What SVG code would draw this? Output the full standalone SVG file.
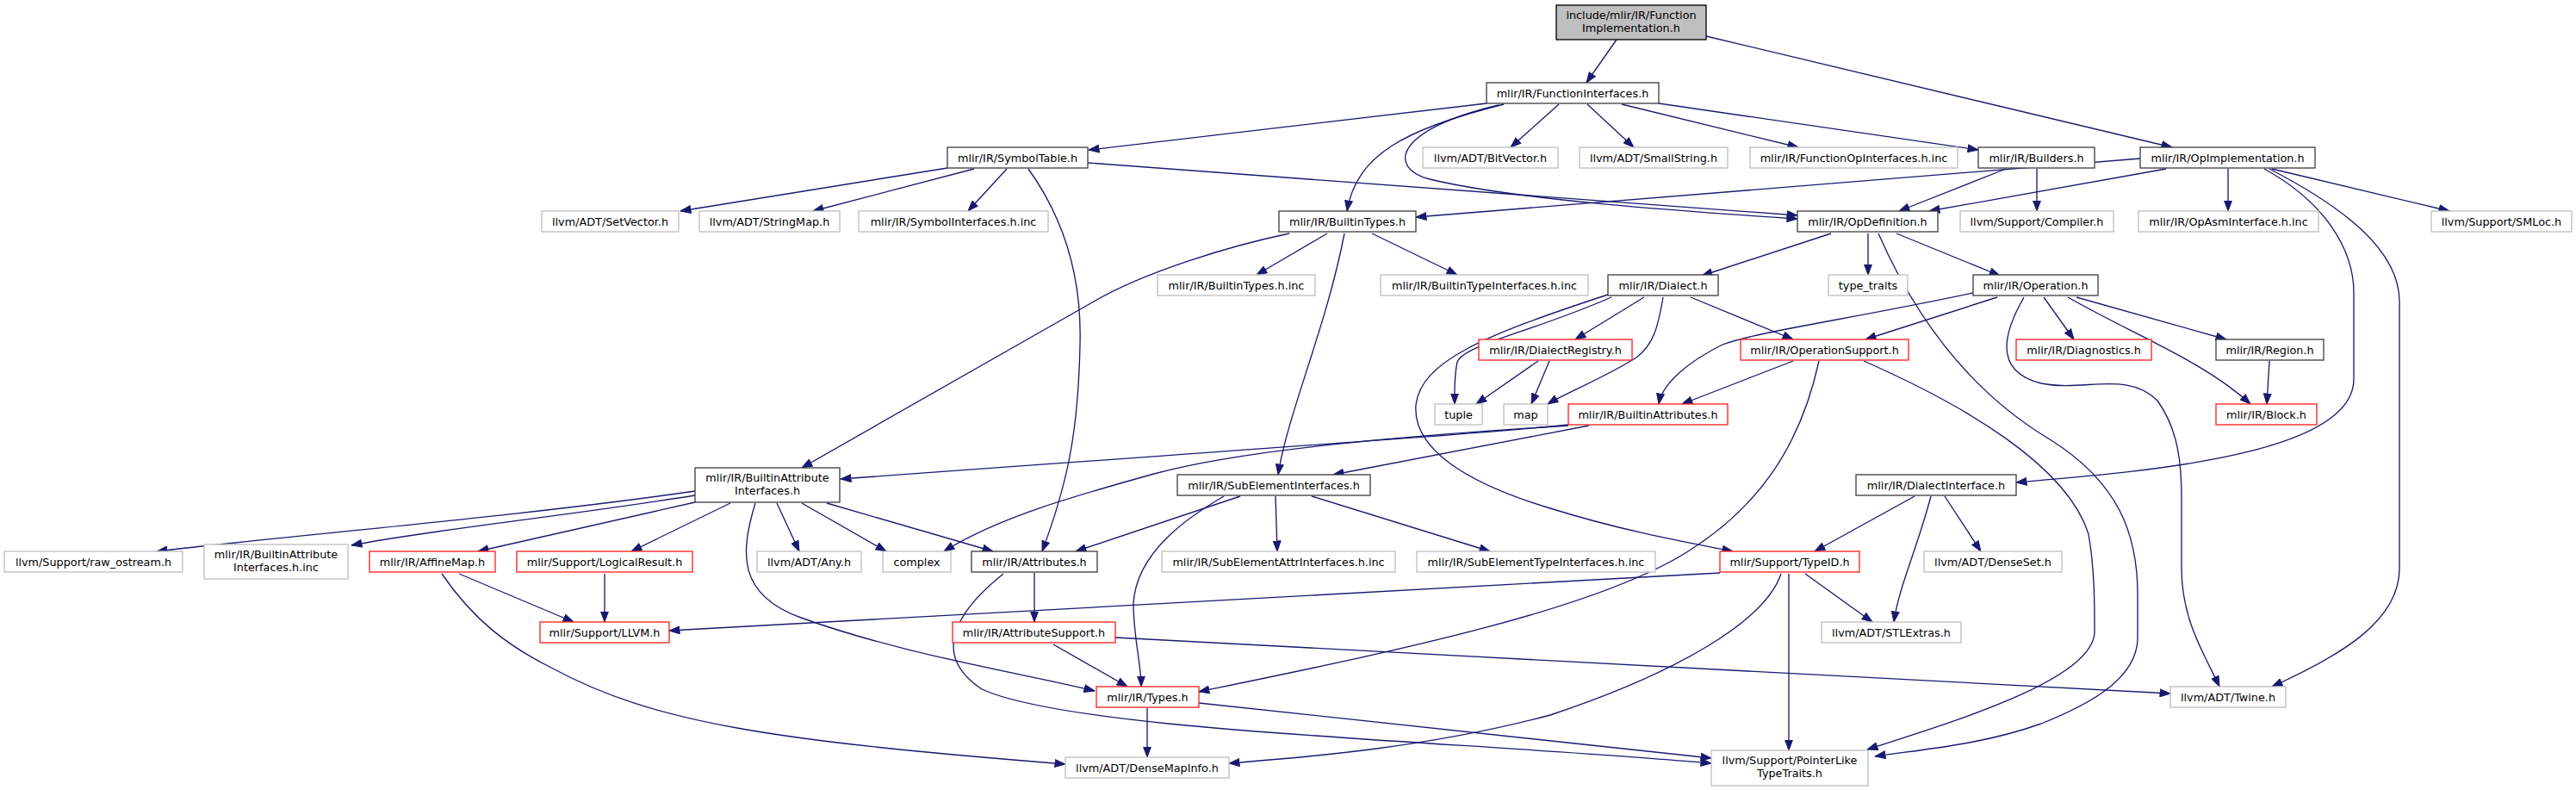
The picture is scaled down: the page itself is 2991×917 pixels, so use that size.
<svg xmlns="http://www.w3.org/2000/svg" width="2991" height="917" viewBox="0 0 2991 917">
<style>
rect{fill:#fff;stroke-width:1.33}
.d{stroke:#404040}
.r{stroke:#ff2020}
.g{stroke:#bfbfbf}
.root{fill:#bfbfbf;stroke:#000}
text{font-family:"DejaVu Sans","Liberation Sans",sans-serif;font-size:12.8px;fill:#000;text-anchor:middle}
#edges path{fill:none;stroke:#191970;stroke-width:1.33;marker-end:url(#a)}
</style>
<defs>
<marker id="a" markerWidth="13" markerHeight="10" refX="12.5" refY="5" orient="auto" markerUnits="userSpaceOnUse"><path d="M0.5,0.6 L12.5,5 L0.5,9.4 z" fill="#191970" stroke="#191970" stroke-width="1"/></marker>
</defs>
<rect x="0" y="0" width="2991" height="917" style="fill:#fff;stroke:none"/>
<g id="edges">
<path d="M1877,46 L1842,96"/>
<path d="M1981,42 L2522,171"/>
<path d="M1726,120 L1264,174"/>
<path d="M1746,121 C1630,150 1575,180 1564,245"/>
<path d="M1740,122 C1620,150 1610,195 1660,208 C1760,232 1950,245 2087,254"/>
<path d="M1810,121 L1754,171"/>
<path d="M1843,121 L1897,171"/>
<path d="M1883,121 L2088,171"/>
<path d="M1926,120 L2297,174"/>
<path d="M1100,195 L790,245"/>
<path d="M1131,196 L944,245"/>
<path d="M1169,196 L1124,245"/>
<path d="M1194,196 C1240,260 1256,330 1254,400 C1252,500 1240,560 1210,640"/>
<path d="M1263,189 L2087,250"/>
<path d="M2485,184 L1644,252"/>
<path d="M2515,196 L2240,245"/>
<path d="M2587,196 L2587,245"/>
<path d="M2638,196 L2844,245"/>
<path d="M2629,196 C2700,235 2733,290 2733,340 L2733,440 C2733,530 2480,548 2341,560"/>
<path d="M2635,196 C2720,240 2786,290 2786,350 L2786,660 C2786,720 2720,760 2638,797"/>
<path d="M2329,196 L2205,245"/>
<path d="M2365,196 L2365,245"/>
<path d="M1497,271 C1430,285 1330,315 1270,350 L931,543"/>
<path d="M1541,271 L1459,319"/>
<path d="M1561,271 C1540,380 1495,480 1484,551"/>
<path d="M1593,271 L1692,319"/>
<path d="M2126,271 L1976,320"/>
<path d="M2169,271 L2169,319"/>
<path d="M2202,271 L2322,320"/>
<path d="M2181,271 C2220,360 2280,450 2380,510 C2460,560 2482,620 2482,690 L2482,740 C2482,790 2420,820 2370,840 C2300,865 2230,870 2177,878"/>
<path d="M2319,345 L2166,394"/>
<path d="M2291,340 C2150,370 2040,385 2000,400 C1960,420 1930,445 1926,469"/>
<path d="M2373,345 L2408,394"/>
<path d="M2411,345 L2585,394"/>
<path d="M2401,345 C2480,390 2560,420 2613,469"/>
<path d="M2350,345 C2330,380 2310,430 2370,445 C2420,455 2470,430 2505,465 C2530,500 2533,540 2533,580 L2533,660 C2533,720 2560,760 2577,797"/>
<path d="M2635,419 L2632,469"/>
<path d="M1909,345 L1829,394"/>
<path d="M1871,345 C1780,385 1700,400 1692,420 C1688,440 1689,455 1689,469"/>
<path d="M1931,345 C1925,380 1920,400 1900,415 C1860,440 1820,455 1797,469"/>
<path d="M1963,345 L2082,394"/>
<path d="M1867,342 C1720,390 1650,420 1644,470 C1640,520 1700,560 1800,590 C1880,615 1950,628 2012,640"/>
<path d="M1786,419 L1714,469"/>
<path d="M1799,419 L1778,469"/>
<path d="M2082,419 L1953,469"/>
<path d="M2112,419 C2090,520 2040,590 1960,640 C1850,710 1600,760 1392,803"/>
<path d="M2164,419 C2280,470 2400,540 2425,620 C2432,660 2432,700 2432,733 C2432,790 2260,840 2168,870"/>
<path d="M1821,493 C1700,505 1500,518 976,556"/>
<path d="M1845,494 L1548,551"/>
<path d="M1821,494 C1650,505 1450,520 1340,550 C1250,575 1160,600 1096,640"/>
<path d="M807,570 C600,600 350,620 182,640"/>
<path d="M807,575 C650,600 500,615 408,633"/>
<path d="M807,583 L555,640"/>
<path d="M848,584 L733,640"/>
<path d="M877,584 C860,640 855,690 930,717 C1050,760 1180,780 1271,802"/>
<path d="M902,584 L928,640"/>
<path d="M931,584 L1029,640"/>
<path d="M960,584 L1153,640"/>
<path d="M533,666 L666,722"/>
<path d="M513,666 C550,720 590,750 640,775 C760,840 900,860 1237,887"/>
<path d="M702,666 L702,722"/>
<path d="M1997,665 L777,732"/>
<path d="M2068,666 C2050,720 1950,780 1800,830 C1650,870 1500,880 1427,886"/>
<path d="M2096,666 L2174,722"/>
<path d="M2077,666 L2077,871"/>
<path d="M2223,576 L2107,640"/>
<path d="M2242,576 C2225,640 2205,680 2199,722"/>
<path d="M2258,576 L2300,640"/>
<path d="M1201,665 L1201,722"/>
<path d="M1165,666 C1110,710 1080,760 1140,800 C1250,850 1700,860 1987,886"/>
<path d="M1223,748 L1309,797"/>
<path d="M1295,740 L2520,805"/>
<path d="M1332,822 L1332,879"/>
<path d="M1392,816 L1987,880"/>
<path d="M1440,576 L1249,640"/>
<path d="M1421,576 C1380,600 1320,640 1316,700 C1316,740 1325,770 1325,797"/>
<path d="M1481,576 L1483,640"/>
<path d="M1523,576 L1730,640"/>
</g>
<g id="n_root"><rect class="root" x="1807" y="6" width="174" height="40"/><text x="1894" y="21.5">include/mlir/IR/Function</text><text x="1894" y="37">Implementation.h</text></g>
<g id="n_FunctionInterfaces"><rect class="d" x="1726" y="96" width="200" height="24"/><text x="1826" y="112.5">mlir/IR/FunctionInterfaces.h</text></g>
<g id="n_SymbolTable"><rect class="d" x="1100" y="171" width="163" height="24"/><text x="1181.5" y="187.5">mlir/IR/SymbolTable.h</text></g>
<g id="n_BitVector"><rect class="g" x="1652" y="171" width="157" height="24"/><text x="1730.5" y="187.5">llvm/ADT/BitVector.h</text></g>
<g id="n_SmallString"><rect class="g" x="1834" y="171" width="172" height="24"/><text x="1920" y="187.5">llvm/ADT/SmallString.h</text></g>
<g id="n_FunctionOpInterfaces"><rect class="g" x="2032" y="171" width="241" height="24"/><text x="2152.5" y="187.5">mlir/IR/FunctionOpInterfaces.h.inc</text></g>
<g id="n_Builders"><rect class="d" x="2297" y="171" width="135" height="24"/><text x="2364.5" y="187.5">mlir/IR/Builders.h</text></g>
<g id="n_OpImplementation"><rect class="d" x="2485" y="171" width="203" height="24"/><text x="2586.5" y="187.5">mlir/IR/OpImplementation.h</text></g>
<g id="n_SetVector"><rect class="g" x="629" y="245" width="159" height="24"/><text x="708.5" y="261.5">llvm/ADT/SetVector.h</text></g>
<g id="n_StringMap"><rect class="g" x="812" y="245" width="163" height="24"/><text x="893.5" y="261.5">llvm/ADT/StringMap.h</text></g>
<g id="n_SymbolInterfaces"><rect class="g" x="997" y="245" width="220" height="24"/><text x="1107" y="261.5">mlir/IR/SymbolInterfaces.h.inc</text></g>
<g id="n_BuiltinTypes"><rect class="d" x="1485" y="245" width="159" height="24"/><text x="1564.5" y="261.5">mlir/IR/BuiltinTypes.h</text></g>
<g id="n_OpDefinition"><rect class="d" x="2087" y="245" width="163" height="24"/><text x="2168.5" y="261.5">mlir/IR/OpDefinition.h</text></g>
<g id="n_Compiler"><rect class="g" x="2276" y="245" width="178" height="24"/><text x="2365" y="261.5">llvm/Support/Compiler.h</text></g>
<g id="n_OpAsmInterface"><rect class="g" x="2483" y="245" width="209" height="24"/><text x="2587.5" y="261.5">mlir/IR/OpAsmInterface.h.inc</text></g>
<g id="n_SMLoc"><rect class="g" x="2823" y="245" width="163" height="24"/><text x="2904.5" y="261.5">llvm/Support/SMLoc.h</text></g>
<g id="n_BuiltinTypesInc"><rect class="g" x="1344" y="319" width="183" height="24"/><text x="1435.5" y="335.5">mlir/IR/BuiltinTypes.h.inc</text></g>
<g id="n_BuiltinTypeInterfaces"><rect class="g" x="1603" y="319" width="241" height="24"/><text x="1723.5" y="335.5">mlir/IR/BuiltinTypeInterfaces.h.inc</text></g>
<g id="n_Dialect"><rect class="d" x="1867" y="319" width="128" height="24"/><text x="1931" y="335.5">mlir/IR/Dialect.h</text></g>
<g id="n_type_traits"><rect class="g" x="2123" y="319" width="92" height="24"/><text x="2169" y="335.5">type_traits</text></g>
<g id="n_Operation"><rect class="d" x="2291" y="319" width="145" height="24"/><text x="2363.5" y="335.5">mlir/IR/Operation.h</text></g>
<g id="n_DialectRegistry"><rect class="r" x="1717" y="394" width="178" height="24"/><text x="1806" y="410.5">mlir/IR/DialectRegistry.h</text></g>
<g id="n_OperationSupport"><rect class="r" x="2021" y="394" width="195" height="24"/><text x="2118.5" y="410.5">mlir/IR/OperationSupport.h</text></g>
<g id="n_Diagnostics"><rect class="r" x="2341" y="394" width="157" height="24"/><text x="2419.5" y="410.5">mlir/IR/Diagnostics.h</text></g>
<g id="n_Region"><rect class="d" x="2573" y="394" width="125" height="24"/><text x="2635.5" y="410.5">mlir/IR/Region.h</text></g>
<g id="n_tuple"><rect class="g" x="1666" y="469" width="55" height="24"/><text x="1693.5" y="485.5">tuple</text></g>
<g id="n_map"><rect class="g" x="1746" y="469" width="51" height="24"/><text x="1771.5" y="485.5">map</text></g>
<g id="n_BuiltinAttributes"><rect class="r" x="1821" y="469" width="185" height="24"/><text x="1913.5" y="485.5">mlir/IR/BuiltinAttributes.h</text></g>
<g id="n_Block"><rect class="r" x="2573" y="469" width="117" height="24"/><text x="2631.5" y="485.5">mlir/IR/Block.h</text></g>
<g id="n_BuiltinAttributeInterfaces"><rect class="d" x="807" y="543" width="168" height="40"/><text x="891" y="558.5">mlir/IR/BuiltinAttribute</text><text x="891" y="574">Interfaces.h</text></g>
<g id="n_SubElementInterfaces"><rect class="d" x="1367" y="551" width="224" height="24"/><text x="1479" y="567.5">mlir/IR/SubElementInterfaces.h</text></g>
<g id="n_DialectInterface"><rect class="d" x="2155" y="551" width="186" height="24"/><text x="2248" y="567.5">mlir/IR/DialectInterface.h</text></g>
<g id="n_raw_ostream"><rect class="g" x="5" y="640" width="207" height="24"/><text x="108.5" y="656.5">llvm/Support/raw_ostream.h</text></g>
<g id="n_BuiltinAttributeInterfacesInc"><rect class="g" x="237" y="632" width="167" height="40"/><text x="320.5" y="647.5">mlir/IR/BuiltinAttribute</text><text x="320.5" y="663">Interfaces.h.inc</text></g>
<g id="n_AffineMap"><rect class="r" x="429" y="640" width="146" height="24"/><text x="502" y="656.5">mlir/IR/AffineMap.h</text></g>
<g id="n_LogicalResult"><rect class="r" x="600" y="640" width="204" height="24"/><text x="702" y="656.5">mlir/Support/LogicalResult.h</text></g>
<g id="n_Any"><rect class="g" x="879" y="640" width="121" height="24"/><text x="939.5" y="656.5">llvm/ADT/Any.h</text></g>
<g id="n_complex"><rect class="g" x="1025" y="640" width="79" height="24"/><text x="1064.5" y="656.5">complex</text></g>
<g id="n_Attributes"><rect class="d" x="1128" y="640" width="146" height="24"/><text x="1201" y="656.5">mlir/IR/Attributes.h</text></g>
<g id="n_SubElementAttrInterfaces"><rect class="g" x="1349" y="640" width="271" height="24"/><text x="1484.5" y="656.5">mlir/IR/SubElementAttrInterfaces.h.inc</text></g>
<g id="n_SubElementTypeInterfaces"><rect class="g" x="1645" y="640" width="277" height="24"/><text x="1783.5" y="656.5">mlir/IR/SubElementTypeInterfaces.h.inc</text></g>
<g id="n_TypeID"><rect class="r" x="1997" y="640" width="162" height="24"/><text x="2078" y="656.5">mlir/Support/TypeID.h</text></g>
<g id="n_DenseSet"><rect class="g" x="2234" y="640" width="160" height="24"/><text x="2314" y="656.5">llvm/ADT/DenseSet.h</text></g>
<g id="n_LLVM"><rect class="r" x="627" y="722" width="150" height="24"/><text x="702" y="738.5">mlir/Support/LLVM.h</text></g>
<g id="n_AttributeSupport"><rect class="r" x="1106" y="722" width="189" height="24"/><text x="1200.5" y="738.5">mlir/IR/AttributeSupport.h</text></g>
<g id="n_STLExtras"><rect class="g" x="2115" y="722" width="162" height="24"/><text x="2196" y="738.5">llvm/ADT/STLExtras.h</text></g>
<g id="n_Types"><rect class="r" x="1273" y="797" width="119" height="24"/><text x="1332.5" y="813.5">mlir/IR/Types.h</text></g>
<g id="n_Twine"><rect class="g" x="2520" y="797" width="134" height="24"/><text x="2587" y="813.5">llvm/ADT/Twine.h</text></g>
<g id="n_DenseMapInfo"><rect class="g" x="1237" y="879" width="190" height="24"/><text x="1332" y="895.5">llvm/ADT/DenseMapInfo.h</text></g>
<g id="n_PointerLike"><rect class="g" x="1987" y="871" width="182" height="41"/><text x="2078" y="886.5">llvm/Support/PointerLike</text><text x="2078" y="902">TypeTraits.h</text></g>
</svg>
